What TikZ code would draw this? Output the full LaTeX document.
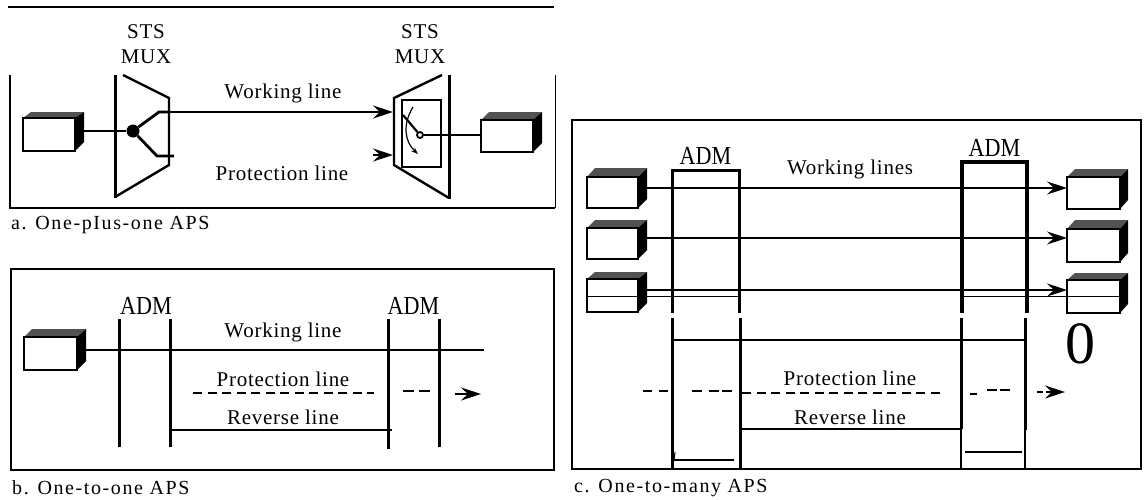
\documentclass[tikz,border=0pt]{standalone}
\usepackage{fontspec}
\usepackage{graphicx}
\setmainfont{Liberation Serif}
\newfontfamily\lblfont[LetterSpace=3.5]{Liberation Serif}
\newfontfamily\capfont[LetterSpace=8]{Liberation Serif}
\usetikzlibrary{arrows.meta,calc}
\newcommand{\admtext}{\scalebox{0.85}[1]{ADM}}
\tikzset{
  lbl/.style={inner sep=0pt,font=\fontsize{21}{23}\selectfont\lblfont},
  admlbl/.style={inner sep=0pt,font=\fontsize{26}{28}\selectfont},
  caplbl/.style={inner sep=0pt,anchor=west,font=\fontsize{20}{22}\selectfont\capfont},
  frameline/.style={line width=1.5pt},
  thinframe/.style={line width=1pt},
  wire/.style={line width=2.8pt},
  midwire/.style={line width=1.8pt},
  thinwire/.style={line width=1.3pt},
  muxline/.style={line width=2.4pt,line join=miter},
  admline/.style={line width=3pt},
  dashline/.style={line width=1.8pt,dash pattern=on 9pt off 5.5pt},
  arrowed/.style={-{Stealth[length=20pt,width=13pt,inset=7pt]}},
  cubeface/.style={draw,fill=white,line width=2pt,inner sep=0pt,outer sep=0pt}
}
\newcommand{\cubebox}[7]{% name, x1,y1,x2,y2, side x, top y
  \fill[black!68] (#2,#3) -- (#2+8,#7) -- (#6,#7) -- (#4,#3) -- cycle;
  \fill[black] (#4,#3) -- (#6,#7) -- (#6,#5-9) -- (#4,#5) -- cycle;
  \node[cubeface,minimum width={(#4-#2)*1pt},minimum height={(#5-#3)*1pt}] (#1) at ({(#2+#4)/2},{(#3+#5)/2}) {};
}
\begin{document}
\begin{tikzpicture}[x=1pt,y=-1pt]
\useasboundingbox (0,0) rectangle (1145,499);
% ---------- panel a
\coordinate (atl) at (8,7); \coordinate (atr) at (554,7);
\draw[frameline] (atl) -- (atr);
\coordinate (fa1) at (10,75); \coordinate (fa2) at (10,208);
\coordinate (fa3) at (555,208); \coordinate (fa4) at (555,75);
\draw[line width=1.8pt] (fa1) -- (fa2) -- (fa3);
\draw[thinframe] (fa3) -- (fa4);
\node[lbl] (tsts1) at (146,32) {STS};
\node[lbl] (tmux1) at (146,57) {MUX};
\node[lbl] (tsts2) at (420,32) {STS};
\node[lbl] (tmux2) at (420,57) {MUX};
\node[lbl] (ta1) at (283,93) {Working line};
\node[lbl] (ta2) at (282,173) {Protection line};
\node[caplbl] (capa) at (11,225) {a. One-pIus-one APS};
\cubebox{abox1}{23}{118}{75}{151}{84}{112}
\cubebox{abox2}{481}{120}{533}{152}{542}{112}
% left mux
\draw[muxline] (123,75) -- (169,98) -- (169,165) -- (115,197);
\draw[line width=3pt] (115,198) -- (115,75);
\node[circle,fill,inner sep=0pt,minimum size=13pt] (adot) at (133,131) {};
\coordinate (as) at (84,131);
\coordinate (au) at (159,112); \coordinate (aum) at (170,112); \coordinate (al) at (157,156); \coordinate (ale) at (174,156);
\coordinate (atip) at (393,112); \coordinate (ptail) at (373,155); \coordinate (ptip) at (393,155);
\draw[wire] (as) -- (adot);
\draw[wire] (adot) -- (au) -- (aum);
\draw[midwire,arrowed] (aum) -- (atip);
\draw[wire] (adot) -- (al) -- (ale);
\draw[midwire,arrowed] (ptail) -- (ptip);
% right mux
\draw[muxline] (442,75) -- (394,98) -- (394,165) -- (449,198);
\draw[line width=3pt] (449,199) -- (449,75);
\draw[line width=2pt] (402,100) rectangle (441,167);
\node[circle,draw,fill=white,line width=1.8pt,inner sep=0pt,minimum size=6pt] (apiv) at (420,135) {};
\coordinate (ablade) at (403,115);
\draw[line width=2.2pt] (apiv) -- (ablade);
\draw[line width=1.2pt,-{Stealth[length=7pt,width=5pt]}] (413,107) .. controls (402,125) and (405,142) .. (418,154);
\draw[wire] (apiv) -- (abox2.west |- apiv);
% ---------- panel b
\draw[frameline] (11,269) rectangle (554,470);
\node[caplbl] (capb) at (12,488) {b. One-to-one APS};
\cubebox{bbox}{24}{337}{77}{370}{86}{329}
\node[admlbl] (badm1) at (146,306) {\admtext};
\node[admlbl] (badm2) at (413.5,306) {\admtext};
\foreach \n/\x/\y in {b1/119.6/447,b2/170.7/447,b3/388/449,b4/439/447}{
  \coordinate (\n t) at (\x,319); \coordinate (\n b) at (\x,\y);
  \draw[admline] (\n t) -- (\n b);
}
\coordinate (bwe) at (484,350);
\coordinate (bws) at (86,350);
\draw[line width=2.2pt] (bws) -- (bwe);
\node[lbl] (tb1) at (283,332) {Working line};
\node[lbl] (tb2) at (283,379) {Protection line};
\node[lbl] (tb3) at (283,417) {Reverse line};
\coordinate (bd1) at (193,393); \coordinate (bd2) at (374,393);
\draw[dashline] (bd1) -- (bd2);
\coordinate (bd3) at (403,391); \coordinate (bd4) at (430,391);
\draw[line width=2pt,dash pattern=on 11pt off 5pt] (bd3) -- (bd4);
\coordinate (bat) at (455,394); \coordinate (bah) at (481,394);
\draw[midwire,arrowed] (bat) -- (bah);
\coordinate (brs) at (170.7,430); \coordinate (bre) at (392,430);
\draw[line width=2.4pt] (brs) -- (bre);
% ---------- panel c
\draw[frameline] (572,469) -- (572,120) -- (1141,120) -- (1141,469) -- cycle;
\draw[line width=2.4pt] (572,120) -- (572,312);
\draw[line width=2.6pt] (572,318) -- (572,402);
\node[caplbl] (capc) at (574,488) {c. One-to-many APS};
\node[admlbl] (cadm1) at (705.5,155.5) {\admtext};
\node[admlbl] (cadm2) at (994.5,148) {\admtext};
\node[lbl] (tc1) at (850,169) {Working lines};
\node[lbl] (tc2) at (850,378) {Protection line};
\node[lbl] (tc3) at (850,417) {Reverse line};
\node[inner sep=0pt,font=\fontsize{60}{60}\selectfont] (czero) at (1080,344) {0};
\cubebox{cl1}{587}{177}{638}{208}{647}{168}
\cubebox{cl2}{587}{228}{638}{259}{647}{220}
\cubebox{cl3}{587}{279}{638}{312}{647}{272}
\cubebox{cr1}{1067}{177}{1120}{209}{1128}{169}
\cubebox{cr2}{1067}{229}{1120}{262}{1128}{220}
\cubebox{cr3}{1067}{280}{1120}{313}{1128}{273}
% ADM upper parts
\draw[admline,line join=miter] (672.5,313) -- (672.5,170) -- (739,170) -- (739,313);
\draw[line width=3.4pt,line join=miter] (962,313) -- (962,162) -- (1027,162) -- (1027,313);
% ADM lower parts
\draw[admline] (672,318) -- (672,469);
\draw[admline] (740,318) -- (740,469);
\draw[admline] (961,318) -- (961,429);
\draw[thinwire] (961,429) -- (961,469);
\draw[admline] (1025,318) -- (1025,430);
\draw[thinwire] (1025,430) -- (1025,469);
% working lines
\coordinate (cw1) at (647,188); \coordinate (cw2) at (647,238); \coordinate (cw3) at (647,290);
\draw[line width=2pt,arrowed] (cw1) -- (cr1.west |- cw1);
\draw[midwire,arrowed] (cw2) -- (cr2.west |- cw2);
\draw[line width=2pt,arrowed] (cw3) -- (cr3.west |- cw3);
\coordinate (ct1) at (587,296.5); \coordinate (ct2) at (739,296.5);
\coordinate (ct3) at (962,296.5); \coordinate (ct4) at (1120,296.5);
\draw[thinwire] (ct1) -- (ct2);
\draw[thinwire] (ct3) -- (ct4);
% line below
\coordinate (ch1) at (672,340); \coordinate (ch2) at (740,340); \coordinate (ch3) at (961,340); \coordinate (ch4) at (1025,340);
\draw[line width=2.8pt] (ch1) -- (ch2);
\draw[midwire] (ch2) -- (ch3);
\draw[line width=2.8pt] (ch3) -- (ch4);
% dashes
\coordinate (cd1) at (643,391); \coordinate (cd2) at (668,391);
\draw[line width=1.6pt,dash pattern=on 9pt off 7pt] (cd1) -- (cd2);
\coordinate (cd3) at (692,391); \coordinate (cd4) at (702,391);
\draw[line width=2.4pt] (cd3) -- (cd4);
\coordinate (cd3a) at (709,391); \coordinate (cd4a) at (732,391);
\draw[line width=2.4pt,dash pattern=on 10pt off 3pt] (cd3a) -- (cd4a);
\coordinate (cd5) at (742,393); \coordinate (cd6) at (944,393);
\draw[dashline] (cd5) -- (cd6);
\coordinate (cd7) at (970,394); \coordinate (cd8) at (977,394);
\draw[line width=1.4pt] (cd7) -- (cd8);
\coordinate (cd9) at (987,390); \coordinate (cd10) at (1010,390);
\draw[line width=2pt,dash pattern=on 10pt off 3pt] (cd9) -- (cd10);
\coordinate (cd11) at (1037,392); \coordinate (cd12) at (1043,392);
\draw[thinwire] (cd11) -- (cd12);
\coordinate (cd13) at (1046,392); \coordinate (cd14) at (1065,392);
\draw[thinwire,arrowed] (cd13) -- (cd14);
% reverse line
\coordinate (cr5) at (740,429); \coordinate (cr6) at (961,429);
\draw[line width=2.4pt] (cr5) -- (cr6);
% bottom bits
\coordinate (cb1) at (674,460); \coordinate (cb2) at (734,460);
\coordinate (cb0) at (675,452);
\draw[line width=2.4pt] (cb1) -- (cb2);
\draw[line width=1pt] (cb0) -- (cb1);
\coordinate (cb3) at (965,452); \coordinate (cb4) at (1022,452);
\draw[line width=2.8pt] (cb3) -- (cb4);
\end{tikzpicture}
\end{document}
